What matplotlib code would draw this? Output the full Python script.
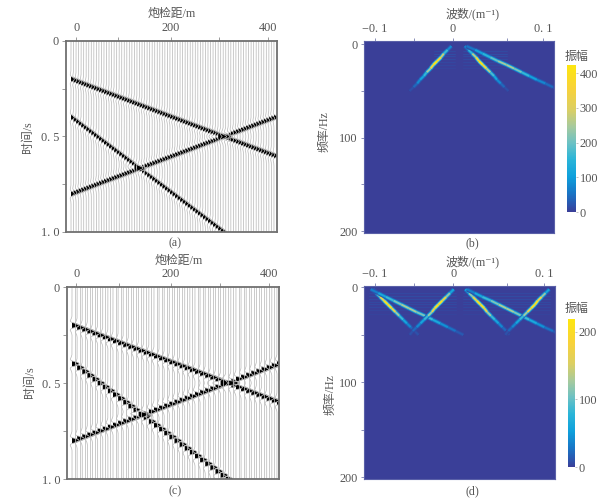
import numpy as np
import matplotlib
matplotlib.use("Agg")
import matplotlib.pyplot as plt
from matplotlib.collections import LineCollection
from matplotlib.colors import LinearSegmentedColormap, Normalize

plt.rcParams['font.family'] = ['Liberation Serif', 'Noto Sans CJK SC', 'DejaVu Sans']

W, H = 610, 504

# --- seismic sections: one time per trace, every 5 m
offset_5m = [
    0, 5, 10, 15, 20, 25, 30, 35, 40, 45, 50, 55, 60, 65, 70, 75, 80, 85, 90, 95,
    100, 105, 110, 115, 120, 125, 130, 135, 140, 145, 150, 155, 160, 165, 170, 175, 180, 185, 190, 195,
    200, 205, 210, 215, 220, 225, 230, 235, 240, 245, 250, 255, 260, 265, 270, 275, 280, 285, 290, 295,
    300, 305, 310, 315, 320, 325, 330, 335, 340, 345, 350, 355, 360, 365, 370, 375, 380, 385, 390, 395, 400]
event_shallow = [
    .200, .205, .210, .215, .220, .225, .230, .235, .240, .245, .250, .255, .260, .265, .270, .275, .280, .285, .290, .295,
    .300, .305, .310, .315, .320, .325, .330, .335, .340, .345, .350, .355, .360, .365, .370, .375, .380, .385, .390, .395,
    .400, .405, .410, .415, .420, .425, .430, .435, .440, .445, .450, .455, .460, .465, .470, .475, .480, .485, .490, .495,
    .500, .505, .510, .515, .520, .525, .530, .535, .540, .545, .550, .555, .560, .565, .570, .575, .580, .585, .590, .595, .600]
event_steep = [
    .40, .41, .42, .43, .44, .45, .46, .47, .48, .49, .50, .51, .52, .53, .54, .55, .56, .57, .58, .59,
    .60, .61, .62, .63, .64, .65, .66, .67, .68, .69, .70, .71, .72, .73, .74, .75, .76, .77, .78, .79,
    .80, .81, .82, .83, .84, .85, .86, .87, .88, .89, .90, .91, .92, .93, .94, .95, .96, .97, .98, .99, 1.00]
event_rising = [
    .800, .795, .790, .785, .780, .775, .770, .765, .760, .755, .750, .745, .740, .735, .730, .725, .720, .715, .710, .705,
    .700, .695, .690, .685, .680, .675, .670, .665, .660, .655, .650, .645, .640, .635, .630, .625, .620, .615, .610, .605,
    .600, .595, .590, .585, .580, .575, .570, .565, .560, .555, .550, .545, .540, .535, .530, .525, .520, .515, .510, .505,
    .500, .495, .490, .485, .480, .475, .470, .465, .460, .455, .450, .445, .440, .435, .430, .425, .420, .415, .410, .405, .400]

wavelet_t = [-.05, -.04, -.03, -.025, -.02, -.015, -.01, -.005, 0, .005, .01, .015, .02, .025, .03, .04, .05]
wavelet_amp = [0, -.06, -.18, -.25, -.2, 0, .6, .9, 1, .9, .6, 0, -.2, -.25, -.18, -.06, 0]

# --- f-k ridges (b) and (d)
freq = [2, 6, 10, 14, 18, 22, 26, 30, 34, 38, 42, 46, 50]

b_left_k = [-.008, -.012, -.016, -.019, -.023, -.027, -.030, -.034, -.037, -.041, -.044, -.048, -.052]
b_left_amp = [40, 120, 210, 350, 424, 420, 300, 190, 130, 100, 60, 25, 5]
b_mid_k = [.006, .010, .014, .018, .021, .025, .029, .033, .037, .040, .044, .048, .052]
b_mid_amp = [30, 110, 200, 330, 424, 420, 320, 210, 140, 100, 60, 25, 5]
b_far_k = [.008, .017, .025, .033, .041, .050, .058, .066, .074, .082, .091, .099, .107]
b_far_amp = [25, 90, 130, 170, 220, 270, 230, 190, 130, 90, 60, 30, 10]
b_streak_f = [7, 10, 13, 16, 19, 22, 25]
b_streak_amp = [45, 60, 50, 45, 35, 30, 20]

d_k_a = [-.091, -.087, -.083, -.079, -.075, -.071, -.067, -.063, -.059, -.055, -.051, -.047, -.043]
d_amp_a = [30, 90, 150, 200, 219, 200, 150, 100, 70, 50, 30, 15, 5]
d_k_b = [-.093, -.085, -.077, -.069, -.061, -.053, -.045, -.036, -.028, -.020, -.012, -.004, .004]
d_amp_b = [20, 50, 75, 95, 125, 135, 120, 100, 75, 55, 35, 20, 8]
d_k_c = [-.006, -.010, -.014, -.018, -.022, -.026, -.029, -.033, -.037, -.041, -.045, -.049, -.052]
d_amp_c = [30, 90, 150, 200, 219, 200, 150, 100, 70, 50, 30, 15, 5]
d_k_d = [.006, .010, .014, .018, .022, .026, .029, .033, .037, .041, .045, .049, .052]
d_amp_d = [30, 90, 150, 200, 219, 200, 150, 100, 70, 50, 30, 15, 5]
d_k_e = [.008, .016, .024, .033, .041, .049, .057, .065, .073, .081, .089, .098, .106]
d_amp_e = [20, 50, 75, 95, 125, 135, 120, 100, 75, 55, 35, 20, 8]
d_k_f = [.094, .090, .086, .082, .079, .075, .071, .067, .063, .059, .055, .051, .048]
d_amp_f = [30, 90, 150, 200, 219, 200, 150, 100, 70, 50, 30, 15, 5]
d_streak_f = [6, 9, 12, 15, 18, 21, 24, 28]
d_streak_amp = [18, 26, 24, 20, 22, 18, 14, 10]

# --- ticks
sec_yticks = [0, .25, .5, .75, 1.0]
sec_ylabels = ['0', '', '0. 5', '', '1. 0']
fk_yticks = [0, 50, 100, 150, 200]
fk_ylabels = ['0', '', '100', '', '200']
offset_labels = ['0', '', '200', '', '400']
k_labels = ['\u22120. 1', '', '0', '', '0. 1']
k_ticks = [-.0888, -.0476, -.0066, .050, .0888]

parula = LinearSegmentedColormap.from_list('parula_pale', [
    (0.00, '#3a3f98'), (0.05, '#2b55ae'), (0.13, '#1876c6'), (0.24, '#0ea0dc'),
    (0.36, '#2bb5d8'), (0.47, '#6cc1c4'), (0.58, '#a6ca9e'), (0.70, '#dccf62'),
    (0.84, '#f8d23a'), (1.00, '#fde60f')])

TXT = '#555555'
FS = 8.8

fig = plt.figure(figsize=(W / 100, H / 100), dpi=100)


def px_axes(l, t, r, b):
    return fig.add_axes([l / W, 1 - b / H, (r - l) / W, (b - t) / H])


def label(x, y, s, **kw):
    fig.text(x / W, 1 - y / H, s, ha='center', va='center', color=TXT, fontsize=8.6, **kw)


def section(ax, offsets, events, xlim, xticks, gain):
    grid = np.arange(0, 1.02, 0.001)
    for x in offset_5m:
        tr = np.zeros_like(grid)
        for ev in events:
            if x in offsets and offsets.index(x) < len(ev):
                tr += np.interp(grid - ev[offsets.index(x)], wavelet_t, wavelet_amp)
        xx = x + tr * gain
        ax.plot(xx, grid, color='#bcbcbc', lw=0.55)
        ax.fill_betweenx(grid, x, xx, where=tr > 0, color='k', lw=0)
    ax.set_xlim(xlim)
    ax.set_ylim(1.0, 0)
    ax.xaxis.tick_top()
    ax.set_xticks(xticks)
    ax.set_xticklabels(offset_labels)
    ax.set_yticks(sec_yticks)
    ax.set_yticklabels(sec_ylabels)
    ax.tick_params(length=3, width=0.7, color='#999999', labelcolor=TXT, labelsize=FS, pad=2)
    for s in ax.spines.values():
        s.set_color('#707070')
        s.set_linewidth(1.3)


def ridge(ax, k, amp, norm, cmap):
    pts = np.column_stack([k, freq])
    segs = np.stack([pts[:-1], pts[1:]], axis=1)
    mid = (np.array(amp[:-1]) + np.array(amp[1:])) / 2
    for scale, lw in [(0.2, 3.2), (0.5, 2.2), (1.0, 1.3)]:
        ax.add_collection(LineCollection(segs, colors=cmap(norm(mid * scale)), linewidths=lw, capstyle='butt'))


def fk_panel(ax, ridges, streak_f, streak_amp, streak_span, norm):
    ax.set_facecolor(parula(0.0))
    for f, a in zip(streak_f, streak_amp):
        for lo, hi in streak_span:
            ax.plot([lo, hi], [f, f], color=parula(norm(a)), lw=0.4, alpha=0.45)
    for k, amp in ridges:
        ridge(ax, k, amp, norm, parula)
    ax.set_xlim(-.1, .1)
    ax.xaxis.tick_top()
    ax.set_xticks(k_ticks)
    ax.set_xticklabels(k_labels)
    ax.set_yticks(fk_yticks)
    ax.set_yticklabels(fk_ylabels)
    ax.tick_params(length=2.5, width=0.7, color='#8a8fb8', labelcolor=TXT, labelsize=FS, pad=2)
    for s in ax.spines.values():
        s.set_color('#5a60a8')
        s.set_linewidth(0.8)


def colorbar(box, vmax, ticks):
    cax = px_axes(*box)
    sm = plt.cm.ScalarMappable(norm=Normalize(0, vmax), cmap=parula)
    cb = fig.colorbar(sm, cax=cax)
    cb.set_ticks(ticks)
    cb.ax.tick_params(length=1.5, width=0.5, color='#aaaaaa', labelcolor=TXT, labelsize=FS, pad=1)
    cb.outline.set_visible(False)


# (a)
ax_a = px_axes(66, 41, 277, 232)
section(ax_a, offset_5m, [event_shallow, event_steep, event_rising],
        (-9.9, 406), [10, 93, 197, 291, 388], 6.5)
label(172, 14, '炮检距/m')
label(28, 137, '时间/s', rotation=90)
label(175, 243, '(a)')

# (c) only every second trace is live, the rest stay flat
ax_c = px_axes(67, 287, 279, 479)
section(ax_c, offset_5m[::2], [event_shallow[::2], event_steep[::2], event_rising[::2]],
        (-9.8, 404), [8, 92, 193, 289, 385], 14)
label(179, 261, '炮检距/m')
label(30, 382, '时间/s', rotation=90)
label(175, 491, '(c)')

# (b)
norm_b = Normalize(0, 424)
ax_b = px_axes(364, 41, 554, 233)
ax_b.set_ylim(202, -3.5)
fk_panel(ax_b, [(b_left_k, b_left_amp), (b_mid_k, b_mid_amp), (b_far_k, b_far_amp)],
         b_streak_f, b_streak_amp, [(-.026, -.004), (.004, .05)], norm_b)
label(473, 14, '波数/(m\u207b\u00b9)')
label(325, 132, '频率/Hz', rotation=90)
label(472, 243, '(b)')
label(576, 57, '振幅')
colorbar((567, 65, 576, 212), 424, [0, 100, 200, 300, 400])

# (d)
norm_d = Normalize(0, 219)
ax_d = px_axes(364, 286, 555, 479)
ax_d.set_ylim(202, -1.5)
fk_panel(ax_d, [(d_k_a, d_amp_a), (d_k_b, d_amp_b), (d_k_c, d_amp_c),
                (d_k_d, d_amp_d), (d_k_e, d_amp_e), (d_k_f, d_amp_f)],
         d_streak_f, d_streak_amp, [(-.095, -.004), (.004, .095)], norm_d)
label(473, 262, '波数/(m\u207b\u00b9)')
label(331, 395, '频率/Hz', rotation=90)
label(472, 491, '(d)')
label(576, 309, '振幅')
colorbar((568, 319, 575, 467), 219, [0, 100, 200])

fig.savefig('out.png', dpi=100)
